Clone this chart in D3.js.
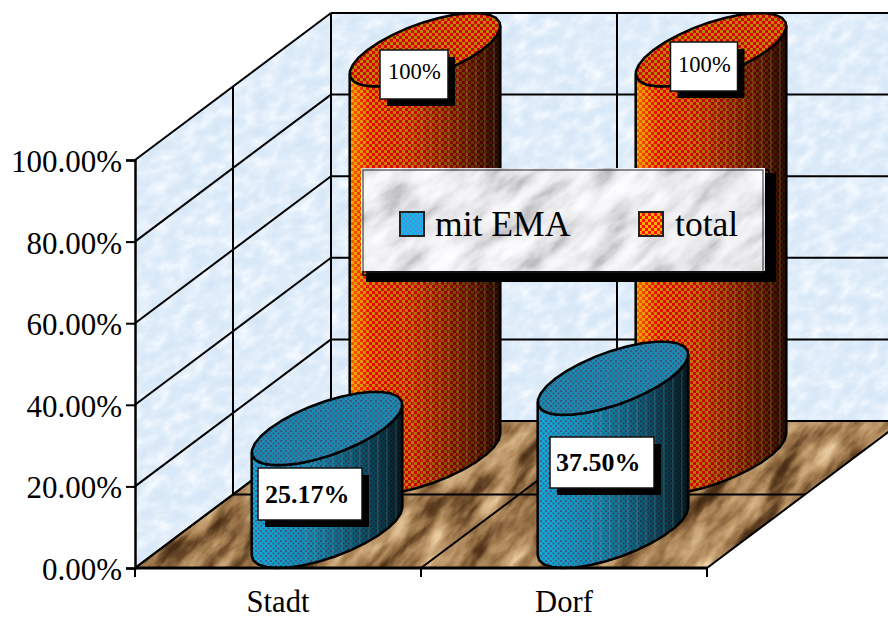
<!DOCTYPE html>
<html>
<head>
<meta charset="utf-8">
<script src="https://cdn.jsdelivr.net/npm/d3@7"></script>
<style>
  html, body { margin: 0; padding: 0; background: #fff; }
  svg { display: block; }
  text { font-family: "Liberation Serif", "Times New Roman", serif; fill: #000; }
</style>
</head>
<body>
<svg id="chart" width="888" height="619"></svg>
<script>
// Share of villages and towns, drawn as an oblique 3D cylinder chart.
const categories = ["Stadt", "Dorf"];
const seriesNames = ["mit EMA", "total"];
const mitEma = [25.17, 37.5];
const total = [100, 100];
const mitEmaLabels = ["25.17%", "37.50%"];
const totalLabels = ["100%", "100%"];
const yTicks = [0, 20, 40, 60, 80, 100];

const svg = d3.select("#chart");
const defs = svg.append("defs");

const x = d3.scaleBand().domain(categories).range([135, 707]);
const y = d3.scaleLinear().domain([0, 100]).range([568, 160]);
const z = d3.scaleBand().domain(seriesNames).range([0, 1]);
const depth = { dx: 196, dy: -147 };

// Maps (horizontal position, depth fraction, value) to the screen.
const project = (px, dz, v) => [px + depth.dx * dz, y(v) + depth.dy * dz];

// Noise textures mapped through colour tables.
function texture(id, freq, octaves, seed, r, g, b) {
  const f = defs.append("filter").attr("id", id)
    .attr("filterUnits", "userSpaceOnUse")
    .attr("x", -600).attr("y", -600).attr("width", 2100).attr("height", 1900)
    .attr("color-interpolation-filters", "sRGB");
  f.append("feTurbulence").attr("type", "fractalNoise")
    .attr("baseFrequency", freq).attr("numOctaves", octaves).attr("seed", seed);
  f.append("feColorMatrix").attr("type", "matrix")
    .attr("values", "1 0 0 0 0  1 0 0 0 0  1 0 0 0 0  0 0 0 0 1");
  const t = f.append("feComponentTransfer");
  t.append("feFuncR").attr("type", "table").attr("tableValues", r);
  t.append("feFuncG").attr("type", "table").attr("tableValues", g);
  t.append("feFuncB").attr("type", "table").attr("tableValues", b);
}
texture("wallTex", "0.06 0.09", 4, 7,
  "0.84 0.84 0.85 0.86 0.88 0.91 0.94 0.98 1",
  "0.90 0.90 0.91 0.92 0.93 0.95 0.97 0.99 1",
  "0.97 0.97 0.97 0.98 0.98 0.99 1 1 1");
texture("floorTex", "0.018 0.05", 5, 11,
  "0.26 0.26 0.30 0.42 0.58 0.70 0.79 0.87 0.94 1",
  "0.16 0.16 0.19 0.29 0.43 0.55 0.65 0.75 0.84 0.93",
  "0.07 0.07 0.09 0.16 0.27 0.37 0.47 0.57 0.69 0.80");
texture("marbleTex", "0.02 0.05", 4, 23,
  "0.70 0.70 0.76 0.84 0.90 0.94 0.97 0.99 1 1",
  "0.70 0.70 0.76 0.84 0.90 0.94 0.97 0.99 1 1",
  "0.72 0.72 0.78 0.85 0.91 0.95 0.98 1 1 1");

// Dither patterns for the cylinders and the legend swatches.
function checker(id, c0, c1, cell) {
  const p = defs.append("pattern").attr("id", id).attr("patternUnits", "userSpaceOnUse")
    .attr("width", cell * 2).attr("height", cell * 2);
  p.append("rect").attr("width", cell * 2).attr("height", cell * 2).attr("fill", c0);
  p.append("rect").attr("width", cell).attr("height", cell).attr("fill", c1);
  p.append("rect").attr("x", cell).attr("y", cell).attr("width", cell).attr("height", cell).attr("fill", c1);
}
function dotted(id, base, dot) {
  const p = defs.append("pattern").attr("id", id).attr("patternUnits", "userSpaceOnUse")
    .attr("width", 5).attr("height", 5);
  p.append("rect").attr("width", 5).attr("height", 5).attr("fill", base);
  p.append("rect").attr("x", 0).attr("y", 0).attr("width", 2).attr("height", 2).attr("fill", dot);
  p.append("rect").attr("x", 2.5).attr("y", 2.5).attr("width", 2).attr("height", 2).attr("fill", dot);
}
dotted("blueSide", "#0CB0DA", "#4E5C94");
dotted("blueTop", "#168EB2", "#46527E");
dotted("blueKey", "#14B8F0", "#5C84C8");
checker("orangeSide", "#F80400", "#E88C00", 3);
checker("orangeTop", "#D40404", "#C08400", 3);
checker("orangeKey", "#FF1000", "#FFB000", 3);

const shade = defs.append("linearGradient").attr("id", "shade");
[[0, 0], [0.12, 0.06], [0.4, 0.18], [0.65, 0.42], [0.88, 0.68], [1, 0.86]].forEach(([o, a]) =>
  shade.append("stop").attr("offset", o).attr("stop-color", "#000").attr("stop-opacity", a));
const glow = defs.append("linearGradient").attr("id", "glow");
glow.append("stop").attr("offset", 0).attr("stop-color", "#FFE000").attr("stop-opacity", 0.45);
glow.append("stop").attr("offset", 0.14).attr("stop-color", "#FFE000").attr("stop-opacity", 0);

// Walls and floor.
const poly = d3.line();
const left = x.range()[0], right = x.range()[1];
const sidePts = [project(left, 0, 0), project(left, 0, 100), project(left, 1, 100), project(left, 1, 0)];
const backPts = [project(left, 1, 0), project(left, 1, 100), project(right, 1, 100), project(right, 1, 0)];
const floorPts = [project(left, 0, 0), project(right, 0, 0), project(right, 1, 0), project(left, 1, 0)];

function texturedArea(parent, pts, filterId, clipId, angle) {
  defs.append("clipPath").attr("id", clipId).append("path").attr("d", poly(pts) + "Z");
  parent.append("g").attr("clip-path", `url(#${clipId})`)
    .append("rect").attr("x", -600).attr("y", -600).attr("width", 2100).attr("height", 1900)
    .attr("transform", `rotate(${angle} 444 310)`)
    .attr("filter", `url(#${filterId})`);
}
texturedArea(svg, sidePts, "wallTex", "sideClip", -30);
texturedArea(svg, backPts, "wallTex", "backClip", -30);
texturedArea(svg, floorPts, "floorTex", "floorClip", -50);

// Gridlines on walls and floor.
const grid = svg.append("g").attr("stroke", "#000").attr("stroke-width", 2).attr("fill", "none");
const seg = (a, b, w) => grid.append("path").attr("d", poly([a, b])).attr("stroke-width", w || 2);
yTicks.forEach(v => {
  seg(project(left, 0, v), project(left, 1, v));
  seg(project(left, 1, v), project(right, 1, v));
});
const boundaries = [left, x("Dorf"), right];
boundaries.forEach(b => seg(project(b, 0, 0), project(b, 1, 0)));
seg(project(left, 0.5, 0), project(left, 0.5, 100));
seg(project(left, 0.5, 0), project(right, 0.5, 0));
seg(project(left, 1, 0), project(left, 1, 100));
seg(project(x("Dorf"), 1, 0), project(x("Dorf"), 1, 100));

// Cylinders: back row first, so the front row overlaps it.
const radiusX = x.bandwidth() * 0.2;
const radiusZ = z.bandwidth() / 2;
const SEGMENTS = 30;

function ring(cx, dz, v, from, to, n) {
  const [px, py] = project(cx, dz, v);
  return d3.range(n + 1).map(i => {
    const t = from + (to - from) * i / n;
    const s = Math.sin(t), c = Math.cos(t);
    return [px + radiusX * c + depth.dx * radiusZ * s, py + depth.dy * radiusZ * s];
  });
}

function cylinder(category, series, value, i) {
  const cx = x(category) + x.bandwidth() / 2;
  const dz = z(series) + z.bandwidth() / 2;
  const t0 = Math.atan2(depth.dx * radiusZ, radiusX);
  const bottom = ring(cx, dz, 0, t0 + Math.PI, t0 + 2 * Math.PI, SEGMENTS / 2);
  const lid = ring(cx, dz, value, t0 + 2 * Math.PI, t0 + Math.PI, SEGMENTS / 2);
  const outline = bottom.concat(lid);
  const isTotal = series === "total";
  const g = svg.append("g");
  const clipId = `body-${series.replace(/\W/g, "")}-${i}`;
  defs.append("clipPath").attr("id", clipId).append("path").attr("d", poly(outline) + "Z");
  const xs = d3.extent(outline, d => d[0]), ys = d3.extent(outline, d => d[1]);
  const box = { x: xs[0], y: ys[0], width: xs[1] - xs[0], height: ys[1] - ys[0] };
  const body = g.append("g").attr("clip-path", `url(#${clipId})`);
  const layer = fill => body.append("rect").attr("x", box.x).attr("y", box.y)
    .attr("width", box.width).attr("height", box.height).attr("fill", fill);
  layer(isTotal ? "url(#orangeSide)" : "url(#blueSide)");
  if (isTotal) layer("url(#glow)");
  layer("url(#shade)");
  // Facet seams on the shaded side.
  d3.range(box.x + box.width * 0.36, box.x + box.width - 4, 9).forEach(sx => {
    body.append("line").attr("x1", sx).attr("x2", sx).attr("y1", box.y).attr("y2", box.y + box.height)
      .attr("stroke", isTotal ? "#D8B890" : "#A8A8A8").attr("stroke-opacity", 0.3).attr("stroke-width", 1);
  });
  g.append("path").attr("d", poly(outline) + "Z").attr("fill", "none").attr("stroke", "#000")
    .attr("stroke-width", 2.5).attr("stroke-linejoin", "round");
  g.append("path").attr("d", poly(ring(cx, dz, value, 0, 2 * Math.PI, SEGMENTS)) + "Z")
    .attr("fill", isTotal ? "url(#orangeTop)" : "url(#blueTop)")
    .attr("stroke", "#000").attr("stroke-width", 2.5).attr("stroke-linejoin", "round");
}
categories.forEach((c, i) => cylinder(c, "total", total[i], i));
categories.forEach((c, i) => cylinder(c, "mit EMA", mitEma[i], i));

// Axes.
const axisY = svg.append("g").attr("transform", `translate(${left},0)`)
  .call(d3.axisLeft(y).tickValues(yTicks).tickSize(9).tickPadding(4).tickFormat(v => v.toFixed(2) + "%"));
axisY.selectAll("line").attr("stroke", "#000").attr("stroke-width", 2);
axisY.select(".domain").attr("stroke", "#000").attr("stroke-width", 2.5);
axisY.selectAll("text").attr("dy", "0.37em")
  .style("font-family", '"Liberation Serif", serif').style("font-size", "31px");

const axisX = svg.append("g").attr("transform", `translate(0,${y(0)})`)
  .call(d3.axisBottom(x).tickSize(0).tickPadding(22.5));
axisX.select(".domain").remove();
axisX.selectAll("text").style("font-family", '"Liberation Serif", serif').style("font-size", "30.6px");
svg.append("path").attr("d", poly([[left, y(0)], [right, y(0)]]))
  .attr("stroke", "#000").attr("stroke-width", 3).attr("fill", "none");
boundaries.forEach(b => svg.append("line").attr("x1", b).attr("x2", b)
  .attr("y1", y(0)).attr("y2", y(0) + 9).attr("stroke", "#000").attr("stroke-width", 2));

// Value callouts with hard drop shadows.
function callout(box, text, size, bold, tx, baseline) {
  svg.append("rect").attr("x", box[0] + 7).attr("y", box[1] + 7)
    .attr("width", box[2]).attr("height", box[3]).attr("fill", "#000");
  svg.append("rect").attr("x", box[0]).attr("y", box[1])
    .attr("width", box[2]).attr("height", box[3])
    .attr("fill", "#fff").attr("stroke", "#111").attr("stroke-width", 1.5);
  svg.append("text").attr("x", tx).attr("y", baseline)
    .style("font-size", size + "px").style("font-weight", bold ? "bold" : "normal")
    .text(text);
}
callout([380, 50, 68, 49], totalLabels[0], 22.6, false, 388, 79);
callout([670.5, 42, 67, 49], totalLabels[1], 22.6, false, 678, 72);
callout([258, 468, 104, 52], mitEmaLabels[0], 26, true, 265, 503);
callout([550, 437, 104, 51], mitEmaLabels[1], 26, true, 556, 471);

// Legend panel.
const legend = svg.append("g");
legend.append("rect").attr("x", 366).attr("y", 173).attr("width", 410).attr("height", 109).attr("fill", "#000");
legend.append("rect").attr("x", 363).attr("y", 170).attr("width", 406).attr("height", 105)
  .attr("fill", "none").attr("stroke", "#000").attr("stroke-width", 1.5);
texturedArea(legend, [[361, 168], [765, 168], [765, 271], [361, 271]], "marbleTex", "legendClip", -40);
legend.append("rect").attr("x", 363).attr("y", 170).attr("width", 400).attr("height", 102)
  .attr("fill", "none").attr("stroke", "#222").attr("stroke-width", 1);
const keys = [
  { name: seriesNames[0], fill: "url(#blueKey)", sx: 400, tx: 435 },
  { name: seriesNames[1], fill: "url(#orangeKey)", sx: 639, tx: 675 }
];
keys.forEach(k => {
  legend.append("rect").attr("x", k.sx).attr("y", 212).attr("width", 24).attr("height", 24)
    .attr("fill", k.fill).attr("stroke", "#222").attr("stroke-width", 2);
  legend.append("text").attr("x", k.tx).attr("y", 236).style("font-size", "35.6px").text(k.name);
});
</script>
</body>
</html>
